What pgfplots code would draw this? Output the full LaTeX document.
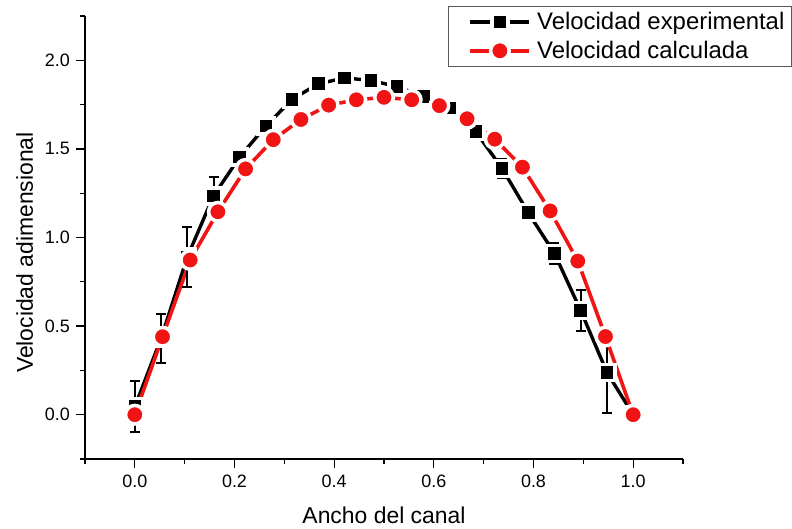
\documentclass[border=0pt]{standalone}
\usepackage{fontspec}
\setmainfont{Liberation Sans}
\usepackage{pgfplots}
\pgfplotsset{compat=1.18}

\definecolor{calcred}{RGB}{240,20,20}
\definecolor{legframe}{RGB}{90,90,90}

% Experimental profile: x, mean, error
\pgfplotstableread{
x        y      e
0.00000  0.045  0.145
0.05263  0.430  0.140
0.10526  0.890  0.170
0.15789  1.235  0.105
0.21053  1.455  0.045
0.26316  1.630  0.025
0.31579  1.780  0.025
0.36842  1.868  0.035
0.42105  1.900  0.035
0.47368  1.887  0.040
0.52632  1.851  0.035
0.57895  1.797  0.030
0.63158  1.730  0.030
0.68421  1.597  0.040
0.73684  1.390  0.055
0.78947  1.140  0.020
0.84211  0.910  0.060
0.89474  0.588  0.113
0.94737  0.239  0.228
1.00000  0.000  0.000
}\experimental

% Calculated profile
\pgfplotstableread{
x        y
0.00000  0.000
0.05556  0.440
0.11111  0.873
0.16667  1.145
0.22222  1.387
0.27778  1.552
0.33333  1.666
0.38889  1.747
0.44444  1.777
0.50000  1.791
0.55556  1.777
0.61111  1.744
0.66667  1.670
0.72222  1.555
0.77778  1.397
0.83333  1.150
0.88889  0.867
0.94444  0.441
1.00000  0.000
}\calculated

\begin{document}
\begin{tikzpicture}
\useasboundingbox (-85bp,-70bp) rectangle (707bp,459bp);
\begin{axis}[
  scale only axis, width=598bp, height=443bp,
  xmin=-0.1, xmax=1.1, ymin=-0.25, ymax=2.25,
  axis lines=left,
  axis line style={line width=1.5bp, -},
  tick align=outside,
  major tick length=9bp, minor tick length=5bp,
  tick style={line width=1.3bp, black},
  xtick={0,0.2,0.4,0.6,0.8,1.0},
  minor xtick={-0.1,0.1,0.3,0.5,0.7,0.9,1.1},
  ytick={0,0.5,1.0,1.5,2.0},
  minor ytick={-0.25,0.25,0.75,1.25,1.75,2.25},
  /pgf/number format/assume math mode=true,
  /pgf/number format/fixed,
  /pgf/number format/fixed zerofill,
  /pgf/number format/precision=1,
  ticklabel style={font=\fontsize{18}{20}\selectfont},
  xticklabel style={anchor=north, inner sep=0pt, yshift=-7bp},
  yticklabel style={anchor=east, inner sep=0pt, xshift=-6bp},
  xlabel={Ancho del canal},
  ylabel={Velocidad adimensional},
  label style={font=\fontsize{23}{26}\selectfont},
  xlabel style={at={(axis description cs:0.5,0)}, anchor=base, yshift=-64bp},
  ylabel style={at={(axis description cs:-0.087,0.466)}, anchor=base, rotate=0},
  legend cell align=left,
  legend style={at={(rel axis cs:0.607,1.0226)}, anchor=north west,
    draw=legframe, line width=1.2bp, inner xsep=7bp, inner ysep=6bp,
    column sep=6bp, row sep=10bp,
    nodes={inner sep=0pt, font=\fontsize{24}{28}\selectfont}},
  legend image code/.code={
    \path (0bp,0bp);
    \draw[#1,solid] (13bp,0bp) -- (34bp,0bp);
    \draw[#1,solid] (51bp,0bp) -- (72bp,0bp);
    \draw[#1,only marks] plot coordinates {(42.5bp,0bp)};
  },
]
% lines with a small gap left around each symbol
\addplot[black, line width=3.4bp, mark=square*,
  mark options={solid, fill=black, draw=white, line width=3.5bp, mark size=8bp}]
  table[x=x, y=y] {\experimental};
\addlegendentry{Velocidad experimental}

\addplot[calcred, line width=3.6bp, mark=*,
  mark options={solid, fill=calcred, draw=white, line width=3.5bp, mark size=9.3bp}]
  table[x=x, y=y] {\calculated};
\addlegendentry{Velocidad calculada}

% standard deviation of the measurements
\addplot[draw=none, mark=none, forget plot,
  error bars/.cd, y dir=both, y explicit,
  error bar style={line width=2bp, black},
  error mark options={rotate=90, mark size=5bp, line width=2bp, black}]
  table[x=x, y=y, y error=e] {\experimental};
\end{axis}
\end{tikzpicture}
\end{document}
